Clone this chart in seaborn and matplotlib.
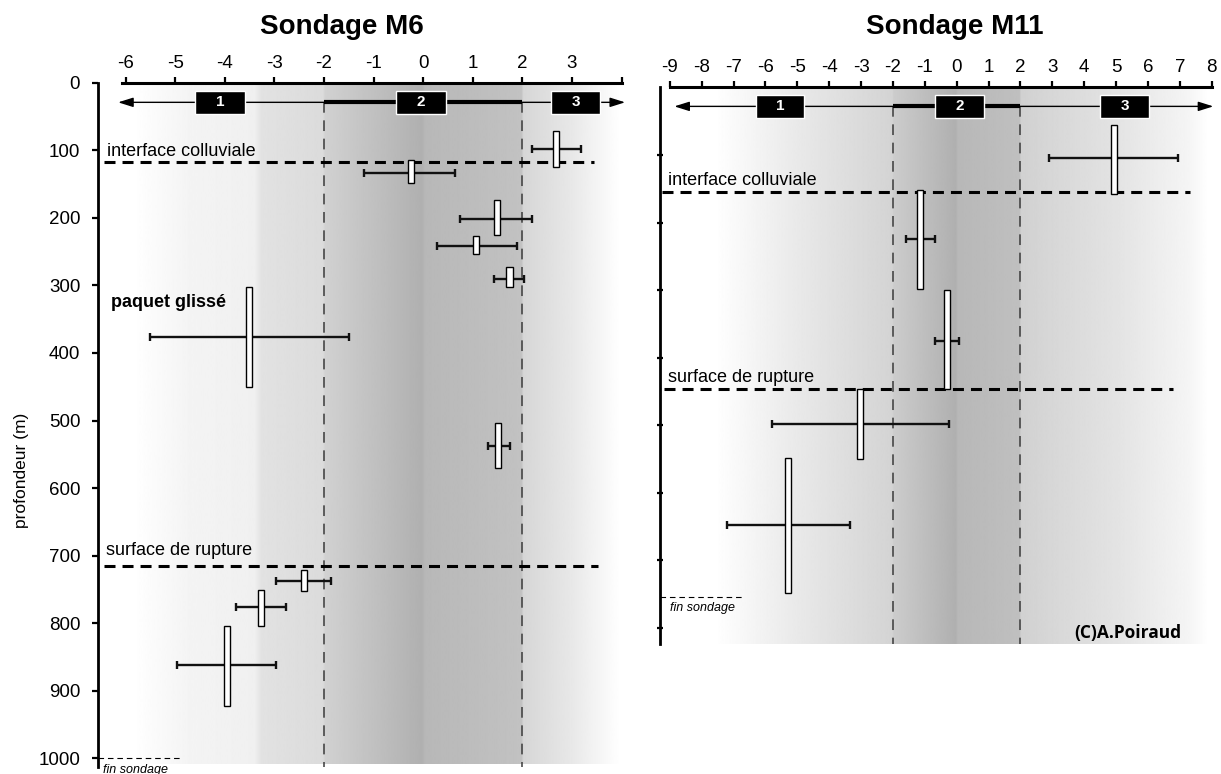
import numpy as np
import matplotlib
matplotlib.use("Agg")
import matplotlib.pyplot as plt
import seaborn as sns

# ---- values (depth in cm) ----
zone_labels = ["1", "2", "3"]

# Sondage M6
m6_value = [2.67, -0.25, 1.48, 1.07, 1.74, -3.51, 1.51, -2.40, -3.27, -3.96]
m6_top = [71, 115, 174, 227, 272, 302, 504, 721, 751, 804]
m6_base = [124, 149, 226, 254, 303, 451, 570, 753, 804, 923]
m6_err_depth = [98, 134, 202, 242, 290, 377, 538, 737, 776, 862]
m6_err_low = [2.19, -1.19, 0.75, 0.27, 1.42, -5.50, 1.30, -2.96, -3.78, -4.96]
m6_err_high = [3.19, 0.64, 2.19, 1.89, 2.04, -1.50, 1.75, -1.86, -2.76, -2.96]
m6_zone_x = [-4.10, -0.04, 3.07]
m6_interface = 117
m6_rupture = 715
m6_fin = 1000

# Sondage M11
m11_value = [4.94, -1.14, -0.31, -3.03, -5.28]
m11_top = [55, 152, 300, 447, 549]
m11_base = [158, 298, 447, 550, 748]
m11_err_depth = [104, 225, 375, 498, 647]
m11_err_low = [2.91, -1.58, -0.69, -5.81, -7.22]
m11_err_high = [6.94, -0.69, 0.08, -0.23, -3.34]
m11_zone_x = [-5.54, 0.08, 5.27]
m11_interface = 154
m11_rupture = 446
m11_fin = 754

m6_xticks = list(range(-6, 5))
m6_xticklabels = [str(t) for t in range(-6, 4)] + [""]
m6_yticks = list(range(0, 1001, 100))
m11_xticks = list(range(-9, 9))
m11_yticks = list(range(100, 801, 100))

sns.set_style("white")
plt.rcParams["font.family"] = ["Liberation Sans", "DejaVu Sans"]
plt.rcParams["text.color"] = "black"
plt.rcParams["axes.unicode_minus"] = False

fig = plt.figure(figsize=(12.21, 7.74), dpi=100)
ax_l = fig.add_axes([0.0805, 0.0089, 0.4286, 0.8842])
ax_r = fig.add_axes([0.5408, 0.1677, 0.4542, 0.7193])


def shade(ax, xlim, ybot, stops_x, stops_g):
    xs = np.linspace(xlim[0], xlim[1], 800)
    g = np.interp(xs, stops_x, stops_g)
    ax.imshow(g[np.newaxis, :], extent=[xlim[0], xlim[1], ybot, 2],
              cmap="gray", vmin=0, vmax=1, aspect="auto",
              interpolation="bilinear", zorder=0)


def panel(ax, xlim, ylim, value, top, base, err_depth, lo, hi, box_w,
          zone_x, zone_depth, arrow_span, interface, rupture, int_span, rup_span):
    # classification bar at the top
    ax.annotate("", xy=(arrow_span[1], zone_depth), xytext=(arrow_span[0], zone_depth),
                arrowprops=dict(arrowstyle="<|-|>,head_length=0.7,head_width=0.22",
                                lw=1.0, color="black", mutation_scale=13,
                                shrinkA=0, shrinkB=0),
                annotation_clip=False, zorder=3)
    ax.plot([-2, 2], [zone_depth, zone_depth], color="black", lw=3, zorder=3,
            solid_capstyle="butt")
    ax.bar(zone_x, 34, bottom=zone_depth - 17, width=box_w * 8, color="black",
           zorder=5)
    for zx, lab in zip(zone_x, zone_labels):
        ax.text(zx, zone_depth, lab, color="white", fontsize=11, fontweight="bold",
                ha="center", va="center", zorder=6)

    # limits of zone 2
    for xv in (-2, 2):
        ax.plot([xv, xv], [zone_depth, ylim[0]], color="#3a3a3a", lw=1.1,
                dashes=(7, 5), zorder=1)

    # horizontal boundaries
    for d, span in ((interface, int_span), (rupture, rup_span)):
        ax.plot(span, [d, d], color="black", lw=2.2, dashes=(3.6, 2.3), zorder=2)

    # error bars then boxes on top
    value = np.asarray(value)
    xerr = [value - np.asarray(lo), np.asarray(hi) - value]
    ax.errorbar(value, err_depth, xerr=xerr, fmt="none", ecolor="#111111",
                elinewidth=1.7, capsize=3.2, capthick=1.7, zorder=3)
    ax.bar(value, np.subtract(base, top), bottom=top, width=box_w,
           color="white", edgecolor="black", linewidth=1.0, zorder=4)

    ax.set_xlim(*xlim)
    ax.set_ylim(*ylim)
    ax.xaxis.tick_top()
    for s in ("bottom", "right"):
        ax.spines[s].set_visible(False)
    ax.spines["top"].set_linewidth(2.2)
    ax.spines["left"].set_linewidth(2.0)
    ax.spines["top"].set_color("black")
    ax.spines["left"].set_color("black")
    ax.tick_params(axis="x", which="major", top=True, bottom=False, direction="out",
                   length=4, width=1.6, labelsize=13.5, pad=4, colors="black")
    ax.grid(False)


# ---- Sondage M6 ----
shade(ax_l, (-6.55, 4.0), 1008,
      [-6.55, -5.85, -4.7, -3.4, -3.25, -2.02, -1.98, -0.02, 0.03, 1.98, 2.02, 3.0, 3.85, 4.0],
      [1.0, 1.0, 0.955, 0.94, 0.885, 0.86, 0.82, 0.69, 0.72, 0.76, 0.84, 0.91, 0.99, 1.0])
panel(ax_l, (-6.55, 4.0), (1013, 0), m6_value, m6_top, m6_base, m6_err_depth,
      m6_err_low, m6_err_high, 0.125, m6_zone_x, 29, (-6.15, 4.07),
      m6_interface, m6_rupture, (-6.44, 3.44), (-6.44, 3.52))
ax_l.spines["top"].set_bounds(-6.07, 4.0)
ax_l.set_xticks(m6_xticks)
ax_l.set_xticklabels(m6_xticklabels)
ax_l.set_yticks(m6_yticks)
ax_l.tick_params(axis="y", left=True, direction="out", length=4, width=1.6,
                 labelsize=13.5, pad=9, colors="black")
ax_l.plot([-6.55, -4.9], [m6_fin, m6_fin], color="black", lw=0.8, dashes=(5, 3.5), zorder=2)
ax_l.text(-6.45, 1017, "fin sondage", fontsize=9, style="italic", ha="left",
          va="center", clip_on=False)
ax_l.text(-6.37, 102, "interface colluviale", fontsize=13, ha="left", va="center")
ax_l.text(-6.29, 326, "paquet glissé", fontsize=13, fontweight="bold", ha="left", va="center")
ax_l.text(-6.40, 693, "surface de rupture", fontsize=13, ha="left", va="center")

# ---- Sondage M11 ----
shade(ax_r, (-9.3, 8.1), 824,
      [-9.3, -7.6, -5.2, -3.3, -2.02, -1.98, -0.02, 0.03, 1.98, 2.02, 5.0, 7.3, 7.9, 8.1],
      [1.0, 1.0, 0.92, 0.865, 0.83, 0.80, 0.69, 0.72, 0.75, 0.82, 0.89, 0.96, 1.0, 1.0])
panel(ax_r, (-9.3, 8.1), (824, 0), m11_value, m11_top, m11_base, m11_err_depth,
      m11_err_low, m11_err_high, 0.19, m11_zone_x, 28, (-8.86, 8.05),
      m11_interface, m11_rupture, (-9.26, 7.31), (-9.2, 6.8))
ax_r.spines["top"].set_bounds(-9.0, 8.0)
ax_r.set_xticks(m11_xticks)
ax_r.set_yticks(m11_yticks)
ax_r.set_yticklabels([])
ax_r.tick_params(axis="y", left=True, direction="inout", length=5, width=1.6,
                 colors="black")
ax_r.plot([-9.3, -6.74], [m11_fin, m11_fin], color="black", lw=0.8, dashes=(5, 3.5), zorder=2)
ax_r.text(-9.0, 770, "fin sondage", fontsize=9, style="italic", ha="left", va="center")
ax_r.text(-9.06, 137, "interface colluviale", fontsize=13, ha="left", va="center")
ax_r.text(-9.06, 430, "surface de rupture", fontsize=13, ha="left", va="center")
ax_r.text(7.04, 808, "(C)A.Poiraud", fontsize=12.5, fontweight="bold",
          family=["Open Sans", "DejaVu Sans"], ha="right", va="center")

# titles and depth label
fig.text(342 / 1221, 1 - 27 / 774, "Sondage M6", fontsize=20, fontweight="bold",
         ha="center", va="center")
fig.text(955 / 1221, 1 - 27 / 774, "Sondage M11", fontsize=20, fontweight="bold",
         ha="center", va="center")
fig.text(22 / 1221, 1 - 470 / 774, "profondeur (m)", fontsize=12.5, rotation=90,
         ha="center", va="center")

fig.savefig("out.png", dpi=100, facecolor="white")
